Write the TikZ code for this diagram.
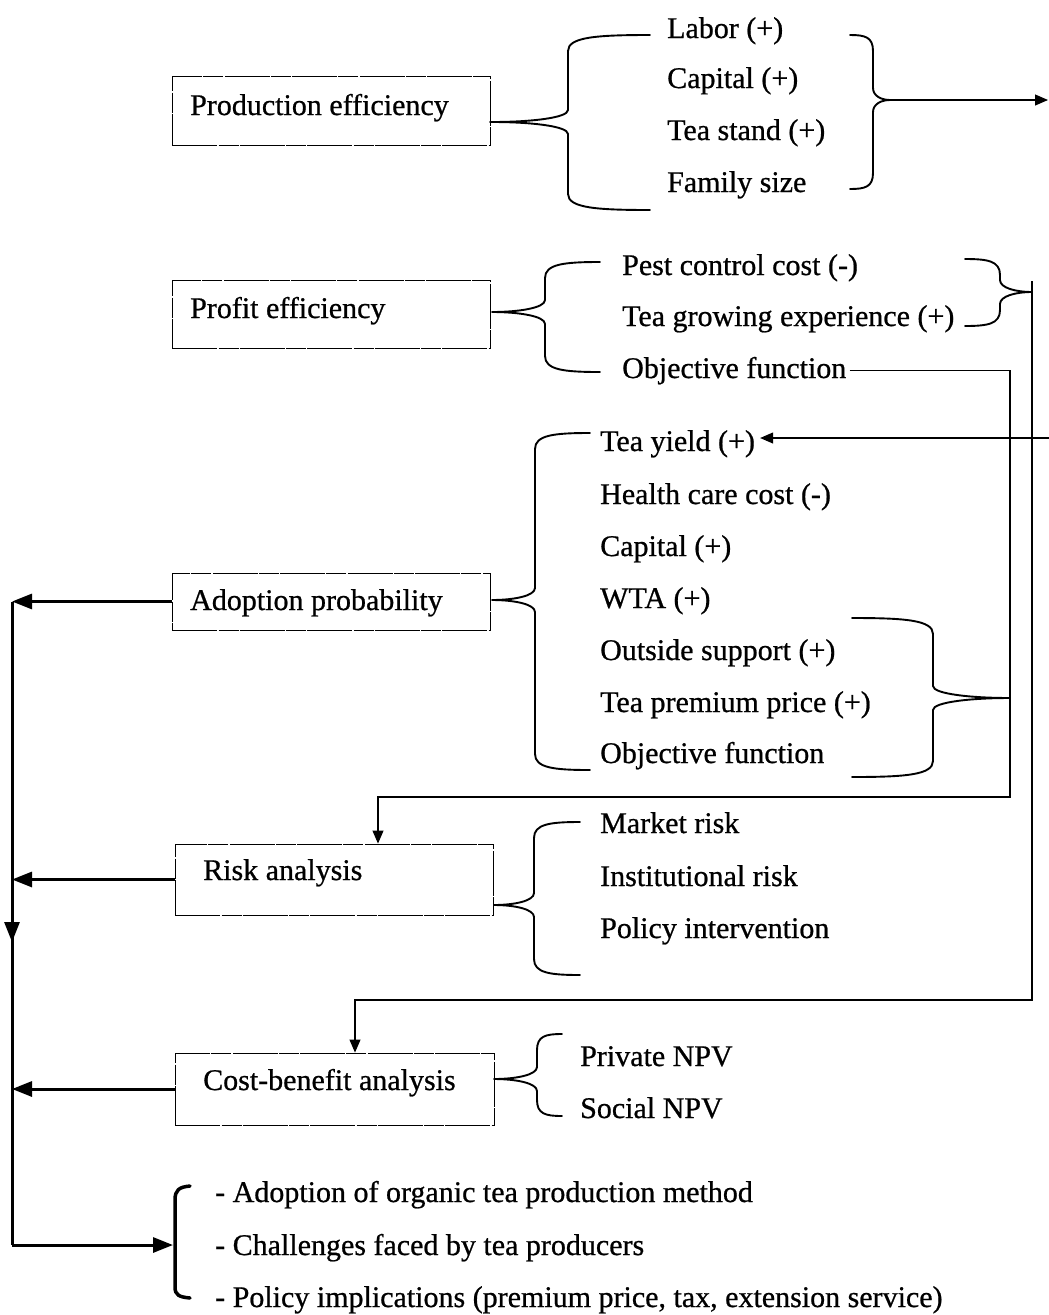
\documentclass[tikz,border=0pt]{standalone}
\usepackage{fontspec}
\setmainfont{Liberation Serif}[FakeBold=0.7]
\usetikzlibrary{arrows.meta}
\tikzset{
  box/.style={draw, line width=0.9pt, dash pattern=on 45pt off 1.5pt on 20pt off 1pt, inner sep=0pt},
  lbl/.style={font=\fontsize{30}{36}\selectfont, inner sep=0pt, anchor=base west},
  brace/.style={line width=1.9pt, line cap=round, line join=round},
  conn/.style={line width=1.1pt},
  bus/.style={line width=3pt},
  tipS/.style={-{Triangle[length=13pt,width=11pt]}},
  tipL/.style={-{Triangle[length=20pt,width=15pt]}},
}
% tipx tipy vx top bottom endx
\newcommand{\mybrace}[6]{%
\draw[brace] (#6,#4) .. controls ({#3+0.35*(#6-#3)},#4) and (#3,{#4+2}) .. (#3,{#4+16})
 -- (#3,{#2-12}) .. controls (#3,{#2-4}) and ({#3+0.5*(#1-#3)},#2) .. (#1,#2)
 .. controls ({#3+0.5*(#1-#3)},#2) and (#3,{#2+4}) .. (#3,{#2+12})
 -- (#3,{#5-16}) .. controls (#3,{#5-2}) and ({#3+0.35*(#6-#3)},#5) .. (#6,#5);}
\begin{document}
\begin{tikzpicture}[x=1pt,y=-1pt]
\useasboundingbox (0,0) rectangle (1049,1315);

% boxes
\node[box, minimum width=318pt, minimum height=69pt] (prod) at (331,110.5) {};
\node[lbl] (prodT) at (190,115) {Production efficiency};
\node[box, minimum width=318pt, minimum height=68pt] (prof) at (331,314) {};
\node[lbl] (profT) at (190,318) {Profit efficiency};
\node[box, minimum width=318pt, minimum height=57pt] (adop) at (331,601.5) {};
\node[lbl] (adopT) at (190,610) {Adoption probability};
\node[box, minimum width=318pt, minimum height=71pt] (risk) at (334,879.5) {};
\node[lbl] (riskT) at (203,880) {Risk analysis};
\node[box, minimum width=319pt, minimum height=72pt] (cba) at (334.5,1089) {};
\node[lbl] (cbaT) at (203,1090) {Cost-benefit analysis};

% items: production
\node[lbl] (lab) at (667,38) {Labor (+)};
\node[lbl] (cap1) at (667,88) {Capital (+)};
\node[lbl] (stand) at (667,140) {Tea stand (+)};
\node[lbl] (fam) at (667,192) {Family size};
% profit
\node[lbl] (pest) at (622,275) {Pest control cost (-)};
\node[lbl] (exp) at (622,326) {Tea growing experience (+)};
\node[lbl] (objP) at (622,378) {Objective function};
% adoption
\node[lbl] (ty) at (600,451) {Tea yield (+)};
\node[lbl] (hc) at (600,504) {Health care cost (-)};
\node[lbl] (cap2) at (600,556) {Capital (+)};
\node[lbl] (wta) at (600,608) {WTA (+)};
\node[lbl] (out) at (600,660) {Outside support (+)};
\node[lbl] (prem) at (600,712) {Tea premium price (+)};
\node[lbl] (objA) at (600,763) {Objective function};
% risk
\node[lbl] (mr) at (600,833) {Market risk};
\node[lbl] (ir) at (600,886) {Institutional risk};
\node[lbl] (pi) at (600,938) {Policy intervention};
% cba
\node[lbl] (pnpv) at (580,1066) {Private NPV};
\node[lbl] (snpv) at (580,1118) {Social NPV};
% conclusions
\node[lbl] (c1) at (215,1202) {- Adoption of organic tea production method};
\node[lbl] (c2) at (215,1255) {- Challenges faced by tea producers};
\node[lbl] (c3) at (215,1307) {- Policy implications (premium price, tax, extension service)};

% braces
\mybrace{492}{122}{568}{35}{210}{650}
\draw[brace] (490,122) -- (492,122);
\mybrace{890}{100}{873}{35}{189}{850}
\mybrace{492}{312}{545}{262}{372}{600}
\mybrace{1032}{292}{1000}{259}{326}{965}
\mybrace{492}{600}{535}{433}{770}{590}
\mybrace{1010}{698}{933}{618}{777}{852}
\mybrace{494}{905}{534}{822}{975}{580}
\mybrace{494}{1079}{537}{1034}{1116}{562}
\draw[line width=3.5pt, line cap=round] (190,1186) .. controls (179,1187) and (175,1190) .. (175,1200)
  -- (175,1287) .. controls (175,1295) and (179,1297) .. (190,1298);

% coordinates
\coordinate (prodTip) at (890,100);
\coordinate (outA) at (1048,100);
\coordinate (profTip) at (1032,292);
\coordinate (tyIn) at (1049,438);
\coordinate (busTop) at (12,601.5);
\coordinate (busBot) at (12,1245);
\coordinate (bkt) at (173,1245);

% right-side connectors
\draw[conn, tipS] (prodTip) -- (outA);
\draw[conn, tipS] ([xshift=3pt]objP.east) -| (1010,797) -| ([xshift=44pt]risk.north);
\draw[conn] (1032,281) -- (profTip);
\draw[conn, tipS] (profTip) -- (1032,1000) -| ([xshift=20.5pt]cba.north);
\draw[conn, tipS] (tyIn) -- ([xshift=5pt]ty.east |- tyIn);

% left bus
\draw[bus] ([yshift=-1.5pt]busTop) -- (busBot);
\draw[bus, tipL] (busTop) -- (12,942);
\draw[bus, tipL] (adop.west) -- (busTop);
\draw[bus, tipL] (risk.west) -- (risk.west -| busTop);
\draw[bus, tipL] (cba.west) -- (cba.west -| busTop);
\draw[bus, tipL] (busBot) -- (bkt);
\end{tikzpicture}
\end{document}
